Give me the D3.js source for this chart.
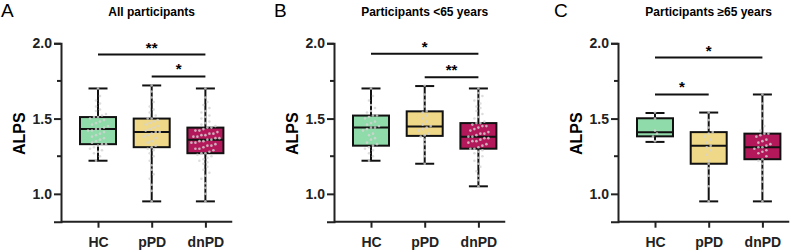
<!DOCTYPE html>
<html>
<head>
<meta charset="utf-8">
<script src="https://cdn.jsdelivr.net/npm/d3@7"></script>
<style>
  body { margin: 0; background: #fff; }
  svg text { font-family: "Liberation Sans", Arial, sans-serif; }
</style>
</head>
<body>
<div id="chart"></div>
<script>
// DATA
const groups = ["HC", "pPD", "dnPD"]
const panelLetters = ["A", "B", "C"]
const panelTitles = ["All participants", "Participants <65 years", "Participants \u226565 years"]
const yTicks = [1.0, 1.5, 2.0]
const yMinor = [1.25, 1.75]

// box stats per group: [min, q1, median, q3, max]
const boxesA = [[1.22, 1.33, 1.43, 1.51, 1.70], [0.95, 1.31, 1.41, 1.50, 1.72], [0.95, 1.27, 1.36, 1.44, 1.70]]
const boxesB = [[1.22, 1.32, 1.44, 1.52, 1.70], [1.20, 1.385, 1.447, 1.548, 1.716], [1.05, 1.30, 1.38, 1.47, 1.70]]
const boxesC = [[1.345, 1.382, 1.409, 1.502, 1.537], [0.95, 1.20, 1.32, 1.41, 1.54], [0.95, 1.23, 1.31, 1.40, 1.66]]

// individual points (estimated)
const dotsA_HC = [1.22,1.25,1.27,1.28,1.29,1.30,1.31,1.32,1.33,1.33,1.34,1.35,1.36,1.37,1.38,1.39,1.40,1.41,1.42,1.42,1.43,1.43,1.44,1.45,1.46,1.47,1.48,1.49,1.50,1.51,1.51,1.52,1.53,1.55,1.56,1.58,1.60,1.62,1.65,1.70]
const dotsA_pPD = [0.95,1.02,1.06,1.10,1.13,1.16,1.19,1.22,1.25,1.27,1.29,1.30,1.31,1.32,1.34,1.35,1.37,1.38,1.39,1.40,1.41,1.41,1.42,1.43,1.44,1.45,1.46,1.47,1.48,1.49,1.50,1.50,1.52,1.54,1.56,1.58,1.61,1.64,1.68,1.72]
const dotsA_dnPD = [0.95,1.00,1.04,1.07,1.10,1.12,1.14,1.16,1.18,1.20,1.21,1.22,1.23,1.24,1.25,1.26,1.27,1.27,1.28,1.29,1.30,1.30,1.31,1.32,1.32,1.33,1.34,1.34,1.35,1.35,1.36,1.36,1.37,1.37,1.38,1.38,1.39,1.39,1.40,1.40,1.41,1.42,1.42,1.43,1.44,1.44,1.45,1.46,1.47,1.48,1.50,1.51,1.52,1.54,1.55,1.57,1.59,1.61,1.64,1.70]
const dotsB_HC = [1.22,1.25,1.27,1.29,1.30,1.31,1.32,1.33,1.34,1.36,1.37,1.39,1.40,1.42,1.43,1.44,1.44,1.45,1.46,1.47,1.48,1.50,1.51,1.52,1.52,1.54,1.55,1.57,1.59,1.62,1.65,1.70]
const dotsB_pPD = [1.20,1.25,1.29,1.33,1.36,1.38,1.39,1.40,1.42,1.43,1.44,1.45,1.46,1.48,1.50,1.52,1.54,1.55,1.58,1.62,1.66,1.72]
const dotsB_dnPD = [1.05,1.09,1.12,1.15,1.18,1.20,1.22,1.24,1.25,1.27,1.28,1.29,1.30,1.30,1.31,1.32,1.33,1.34,1.35,1.35,1.36,1.37,1.37,1.38,1.38,1.39,1.40,1.40,1.41,1.42,1.43,1.44,1.45,1.45,1.46,1.47,1.47,1.48,1.50,1.51,1.53,1.55,1.57,1.58,1.60,1.62,1.63,1.65,1.67,1.70]
const dotsC_HC = [1.35,1.38,1.40,1.42,1.50,1.54]
const dotsC_pPD = [0.95,1.05,1.12,1.17,1.20,1.22,1.26,1.29,1.31,1.32,1.34,1.36,1.38,1.40,1.41,1.44,1.49,1.54]
const dotsC_dnPD = [0.95,1.02,1.08,1.12,1.16,1.20,1.22,1.23,1.25,1.27,1.28,1.29,1.30,1.31,1.31,1.32,1.33,1.34,1.35,1.36,1.38,1.39,1.40,1.40,1.42,1.45,1.50,1.55,1.60,1.66]

// significance: [from group, to group, label]
const sigA = [["HC", "dnPD", "**"], ["pPD", "dnPD", "*"]]
const sigB = [["HC", "dnPD", "*"], ["pPD", "dnPD", "**"]]
const sigC = [["HC", "dnPD", "*"], ["HC", "pPD", "*"]]
const sigLevels = [[1.925, 1.78], [1.93, 1.775], [1.905, 1.66]]

const panels = [
  {boxes: boxesA, dots: [dotsA_HC, dotsA_pPD, dotsA_dnPD], sig: sigA},
  {boxes: boxesB, dots: [dotsB_HC, dotsB_pPD, dotsB_dnPD], sig: sigB},
  {boxes: boxesC, dots: [dotsC_HC, dotsC_pPD, dotsC_dnPD], sig: sigC}
]

const colors = {HC: "#8fdba9", pPD: "#efd888", dnPD: "#b3195a"}
const axisX = [61, 334, 618]
const letterX = [1, 274, 554]

const svg = d3.select("#chart").append("svg")
  .attr("width", 800)
  .attr("height", 250)

const yScale = d3.scaleLinear()
  .domain([0.815, 2.0])
  .range([221.7, 43.3])

panels.forEach((p, i) => {
  const g = svg.append("g").attr("transform", `translate(${axisX[i]},0)`)

  const xScale = d3.scalePoint()
    .domain(groups)
    .range([37, 37 + 2 * 53.7])

  // panel letter + title
  svg.append("text")
    .attr("x", letterX[i]).attr("y", 17)
    .attr("font-size", 19)
    .text(panelLetters[i])
  g.append("text")
    .attr("x", xScale("pPD")).attr("y", 16)
    .attr("text-anchor", "middle")
    .attr("font-size", 12).attr("font-weight", "bold")
    .text(panelTitles[i])

  // y axis
  const yAxis = d3.axisLeft(yScale).tickValues(yTicks).tickFormat(d3.format(".1f")).tickSizeOuter(0).tickSize(7).tickPadding(2)
  const ya = g.append("g").call(yAxis)
  ya.selectAll("text").attr("font-size", 14).attr("font-weight", "bold").attr("fill", "#222")
  ya.selectAll("line, path").attr("stroke", "#222").attr("stroke-width", 2)
  g.selectAll(".minor").data(yMinor).join("line")
    .attr("x1", -4).attr("x2", 0)
    .attr("y1", d => yScale(d)).attr("y2", d => yScale(d))
    .attr("stroke", "#222").attr("stroke-width", 2)

  g.append("text")
    .attr("transform", `translate(-36,${yScale(1.4)}) rotate(-90)`)
    .attr("text-anchor", "middle")
    .attr("font-size", 16).attr("font-weight", "bold")
    .text("ALPS")

  // x axis
  const xAxis = d3.axisBottom(xScale).tickSizeOuter(0).tickSize(6).tickPadding(9)
  const xa = g.append("g").attr("transform", `translate(0,${yScale.range()[0]})`).call(xAxis)
  xa.select("path").attr("d", `M0,0H${37 + 2.5 * 53.7}`)
  xa.selectAll("text").attr("font-size", 14).attr("font-weight", "bold").attr("fill", "#222")
  xa.selectAll("line, path").attr("stroke", "#222").attr("stroke-width", 2)

  const bw = 36, cap = 19
  groups.forEach((grp, j) => {
    const [mn, q1, md, q3, mx] = p.boxes[j]
    const cx = xScale(grp)
    const bg = g.append("g")
    // whisker
    bg.append("line").attr("x1", cx).attr("x2", cx)
      .attr("y1", yScale(mx)).attr("y2", yScale(mn))
      .attr("stroke", "#111").attr("stroke-width", 2)
    bg.selectAll(".cap").data([mn, mx]).join("line")
      .attr("x1", cx - cap / 2).attr("x2", cx + cap / 2)
      .attr("y1", d => yScale(d)).attr("y2", d => yScale(d))
      .attr("stroke", "#111").attr("stroke-width", 2)
    bg.append("rect")
      .attr("x", cx - bw / 2).attr("width", bw)
      .attr("y", yScale(q3)).attr("height", yScale(q1) - yScale(q3))
      .attr("fill", colors[grp]).attr("stroke", "#111").attr("stroke-width", 2)
    bg.append("line").attr("x1", cx - bw / 2).attr("x2", cx + bw / 2)
      .attr("y1", yScale(md)).attr("y2", yScale(md))
      .attr("stroke", "#111").attr("stroke-width", 2)

    // dots, binned by value and spread sideways
    const bins = d3.group(p.dots[j], d => Math.round(d / 0.04))
    const pts = []
    bins.forEach(vals => {
      vals.forEach((v, k) => pts.push({v: v, off: (k - (vals.length - 1) / 2) * 4}))
    })
    bg.selectAll("circle").data(pts).join("circle")
      .attr("cx", d => cx + d.off)
      .attr("cy", d => yScale(d.v))
      .attr("r", 1.3)
      .attr("fill", "#d4d4d4").attr("opacity", 0.8)
  })

  // significance bars
  p.sig.forEach((s, k) => {
    const yy = yScale(sigLevels[i][k])
    g.append("line")
      .attr("x1", xScale(s[0])).attr("x2", xScale(s[1]))
      .attr("y1", yy).attr("y2", yy)
      .attr("stroke", "#111").attr("stroke-width", 2)
    g.append("text")
      .attr("x", (xScale(s[0]) + xScale(s[1])) / 2).attr("y", yy - 2)
      .attr("text-anchor", "middle")
      .attr("font-size", 15).attr("font-weight", "bold")
      .text(s[2])
  })
})
</script>
</body>
</html>
